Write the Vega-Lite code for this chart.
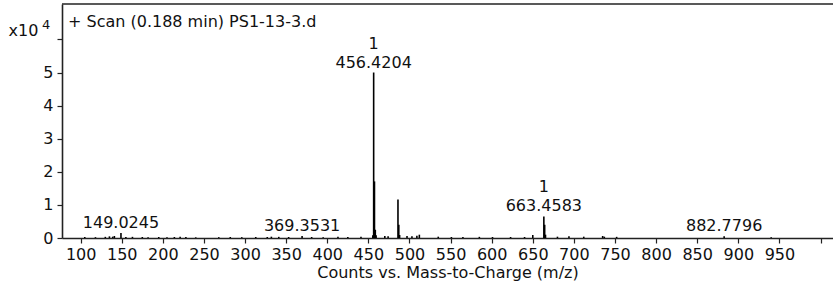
{
  "$schema": "https://vega.github.io/schema/vega-lite/v6.json",
  "width": 771,
  "height": 234,
  "autosize": {"type": "none"},
  "padding": {"left": 62, "top": 4, "right": 0, "bottom": 50},
  "background": "white",
  "config": {
    "view": {"stroke": null},
    "font": "DejaVu Sans",
    "text": {"font": "DejaVu Sans", "fontSize": 16, "color": "#111"},
    "axis": {
      "grid": false,
      "domainColor": "#222", "domainWidth": 1.6,
      "tickColor": "#222", "tickSize": 5, "tickWidth": 1.2,
      "labelFont": "DejaVu Sans", "labelFontSize": 16, "labelColor": "#111",
      "titleFont": "DejaVu Sans", "titleFontSize": 16, "titleFontWeight": "normal", "titleColor": "#111"
    }
  },
  "title": {
    "text": "+ Scan (0.188 min) PS1-13-3.d",
    "anchor": "start",
    "frame": "group",
    "orient": "top",
    "offset": -27,
    "dx": 6,
    "font": "DejaVu Sans",
    "fontSize": 16,
    "fontWeight": "normal",
    "color": "#111"
  },
  "datasets": {
    "peaks": [
      {"mz": 105, "intensity": 300}, {"mz": 118, "intensity": 250}, {"mz": 130, "intensity": 350},
      {"mz": 135, "intensity": 500}, {"mz": 139, "intensity": 400}, {"mz": 141, "intensity": 600},
      {"mz": 149.0245, "intensity": 1500}, {"mz": 155, "intensity": 300}, {"mz": 163, "intensity": 350},
      {"mz": 175, "intensity": 300}, {"mz": 182, "intensity": 250}, {"mz": 195, "intensity": 300},
      {"mz": 205, "intensity": 250}, {"mz": 214, "intensity": 300}, {"mz": 221, "intensity": 350},
      {"mz": 228, "intensity": 300}, {"mz": 240, "intensity": 200}, {"mz": 268, "intensity": 250},
      {"mz": 282, "intensity": 300}, {"mz": 296, "intensity": 250}, {"mz": 313, "intensity": 300},
      {"mz": 327, "intensity": 300}, {"mz": 332, "intensity": 400}, {"mz": 341, "intensity": 350},
      {"mz": 353, "intensity": 300}, {"mz": 369.3531, "intensity": 600}, {"mz": 381, "intensity": 300},
      {"mz": 395, "intensity": 250}, {"mz": 413, "intensity": 350}, {"mz": 425, "intensity": 300},
      {"mz": 441, "intensity": 350}, {"mz": 455.4, "intensity": 800}, {"mz": 456.4204, "intensity": 50000},
      {"mz": 457.42, "intensity": 17100}, {"mz": 458.42, "intensity": 2500}, {"mz": 459.4, "intensity": 800},
      {"mz": 470, "intensity": 600}, {"mz": 474, "intensity": 500}, {"mz": 486.0, "intensity": 11600},
      {"mz": 487.0, "intensity": 4000}, {"mz": 488, "intensity": 900}, {"mz": 497, "intensity": 600},
      {"mz": 503, "intensity": 500}, {"mz": 509, "intensity": 700}, {"mz": 512, "intensity": 1000},
      {"mz": 535, "intensity": 400}, {"mz": 551, "intensity": 300}, {"mz": 565, "intensity": 300},
      {"mz": 585, "intensity": 350}, {"mz": 601, "intensity": 300}, {"mz": 623, "intensity": 300},
      {"mz": 640, "intensity": 300}, {"mz": 650, "intensity": 900}, {"mz": 663.4583, "intensity": 6500},
      {"mz": 664.46, "intensity": 4000}, {"mz": 665.46, "intensity": 1000}, {"mz": 680, "intensity": 400},
      {"mz": 694, "intensity": 500}, {"mz": 712, "intensity": 400}, {"mz": 735, "intensity": 600},
      {"mz": 737, "intensity": 400}, {"mz": 752, "intensity": 350}, {"mz": 882.7796, "intensity": 500},
      {"mz": 940, "intensity": 200}
    ],
    "labels": [
      {"mz": 149.0245, "intensity": 1500, "label": "149.0245", "charge": ""},
      {"mz": 369.3531, "intensity": 600, "label": "369.3531", "charge": ""},
      {"mz": 456.4204, "intensity": 50000, "label": "456.4204", "charge": "1"},
      {"mz": 663.4583, "intensity": 6500, "label": "663.4583", "charge": "1"},
      {"mz": 882.7796, "intensity": 500, "label": "882.7796", "charge": ""}
    ],
    "frame": [{"intensity": 70700}],
    "exponent": [{"mz": 58, "intensity": 64400, "text": "4"}]
  },
  "layer": [
    {
      "data": {"name": "peaks"},
      "mark": {"type": "rule", "color": "#000", "strokeWidth": 1.6},
      "encoding": {
        "x": {
          "field": "mz", "type": "quantitative",
          "scale": {"domain": [77.3, 1015.2], "nice": false, "zero": false},
          "axis": {
            "title": "Counts vs. Mass-to-Charge (m/z)",
            "values": [100,150,200,250,300,350,400,450,500,550,600,650,700,750,800,850,900,950,1000],
            "labelExpr": "datum.value == 1000 ? '' : datum.label",
            "labelPadding": 3, "labelFlush": false, "labelOverlap": false, "titlePadding": 2
          }
        },
        "y": {
          "field": "intensity", "type": "quantitative",
          "scale": {"domain": [0, 70700], "nice": false},
          "axis": {
            "title": "x10",
            "titleAngle": 0, "titleAlign": "left", "titleBaseline": "middle",
            "titleX": -54, "titleY": 26,
            "values": [0, 10000, 20000, 30000, 40000, 50000, 60000],
            "labelExpr": "datum.value == 60000 ? '' : format(datum.value / 10000, 'd')",
            "labelOverlap": false, "labelPadding": 4
          }
        },
        "y2": {"datum": 0}
      }
    },
    {
      "data": {"name": "labels"},
      "mark": {"type": "text", "baseline": "alphabetic", "align": "center", "dy": -5},
      "encoding": {
        "x": {
          "field": "mz", "type": "quantitative",
          "axis": {
            "title": "Counts vs. Mass-to-Charge (m/z)",
            "values": [100,150,200,250,300,350,400,450,500,550,600,650,700,750,800,850,900,950,1000],
            "labelExpr": "datum.value == 1000 ? '' : datum.label",
            "labelPadding": 3, "labelFlush": false, "labelOverlap": false, "titlePadding": 2
          }
        },
        "y": {
          "field": "intensity", "type": "quantitative",
          "axis": {
            "title": "x10",
            "titleAngle": 0, "titleAlign": "left", "titleBaseline": "middle",
            "titleX": -54, "titleY": 26,
            "values": [0, 10000, 20000, 30000, 40000, 50000, 60000],
            "labelExpr": "datum.value == 60000 ? '' : format(datum.value / 10000, 'd')",
            "labelOverlap": false, "labelPadding": 4
          }
        },
        "text": {"field": "label"}
      }
    },
    {
      "data": {"name": "labels"},
      "mark": {"type": "text", "baseline": "alphabetic", "align": "center", "dy": -24},
      "encoding": {
        "x": {
          "field": "mz", "type": "quantitative",
          "axis": {
            "title": "Counts vs. Mass-to-Charge (m/z)",
            "values": [100,150,200,250,300,350,400,450,500,550,600,650,700,750,800,850,900,950,1000],
            "labelExpr": "datum.value == 1000 ? '' : datum.label",
            "labelPadding": 3, "labelFlush": false, "labelOverlap": false, "titlePadding": 2
          }
        },
        "y": {
          "field": "intensity", "type": "quantitative",
          "axis": {
            "title": "x10",
            "titleAngle": 0, "titleAlign": "left", "titleBaseline": "middle",
            "titleX": -54, "titleY": 26,
            "values": [0, 10000, 20000, 30000, 40000, 50000, 60000],
            "labelExpr": "datum.value == 60000 ? '' : format(datum.value / 10000, 'd')",
            "labelOverlap": false, "labelPadding": 4
          }
        },
        "text": {"field": "charge"}
      }
    },
    {
      "data": {"name": "exponent"},
      "mark": {"type": "text", "baseline": "middle", "align": "center", "fontSize": 13, "clip": false},
      "encoding": {
        "x": {
          "field": "mz", "type": "quantitative",
          "axis": {
            "title": "Counts vs. Mass-to-Charge (m/z)",
            "values": [100,150,200,250,300,350,400,450,500,550,600,650,700,750,800,850,900,950,1000],
            "labelExpr": "datum.value == 1000 ? '' : datum.label",
            "labelPadding": 3, "labelFlush": false, "labelOverlap": false, "titlePadding": 2
          }
        },
        "y": {
          "field": "intensity", "type": "quantitative",
          "axis": {
            "title": "x10",
            "titleAngle": 0, "titleAlign": "left", "titleBaseline": "middle",
            "titleX": -54, "titleY": 26,
            "values": [0, 10000, 20000, 30000, 40000, 50000, 60000],
            "labelExpr": "datum.value == 60000 ? '' : format(datum.value / 10000, 'd')",
            "labelOverlap": false, "labelPadding": 4
          }
        },
        "text": {"field": "text"}
      }
    },
    {
      "data": {"name": "frame"},
      "mark": {"type": "rule", "color": "#222", "strokeWidth": 1.6},
      "encoding": {
        "y": {
          "field": "intensity", "type": "quantitative",
          "axis": {
            "title": "x10",
            "titleAngle": 0, "titleAlign": "left", "titleBaseline": "middle",
            "titleX": -54, "titleY": 26,
            "values": [0, 10000, 20000, 30000, 40000, 50000, 60000],
            "labelExpr": "datum.value == 60000 ? '' : format(datum.value / 10000, 'd')",
            "labelOverlap": false, "labelPadding": 4
          }
        }
      }
    }
  ]
}
